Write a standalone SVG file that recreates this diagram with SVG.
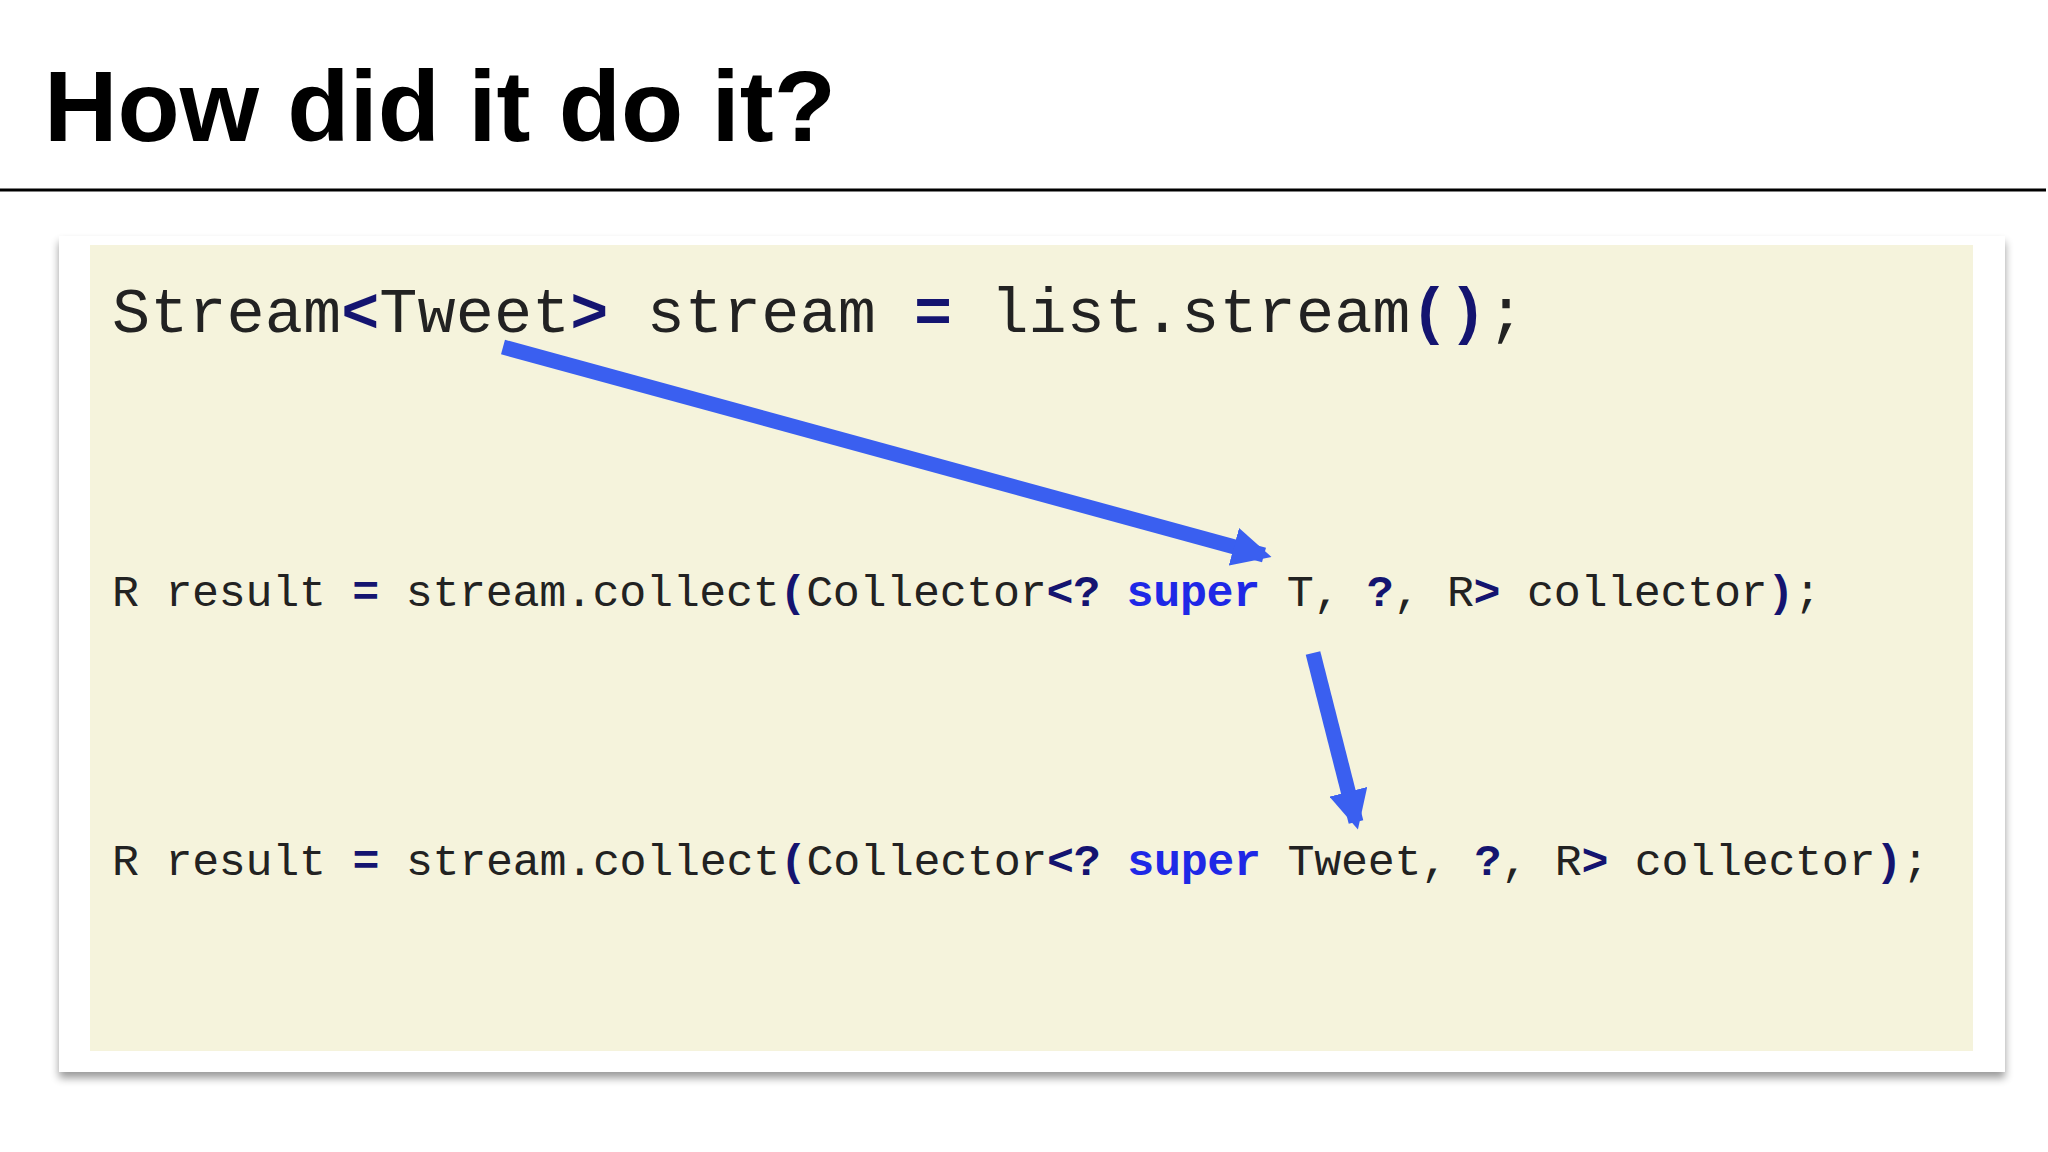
<svg xmlns="http://www.w3.org/2000/svg" width="2048" height="1152" viewBox="0 0 2048 1152">
<style>
.code{font-family:"Liberation Mono","DejaVu Sans Mono",monospace;fill:#222;}
.p{fill:#141470;font-weight:bold;}
.k{fill:#1e28e6;font-weight:bold;}
.arr{stroke:#3a5ff0;stroke-width:15;fill:none;}
</style>
<defs>
<marker id="ah" viewBox="0 0 10 10" refX="8" refY="5" markerWidth="2.6" markerHeight="2.6" orient="auto" markerUnits="strokeWidth"><path d="M0,0 L10,5 L0,10 z" fill="#3a5ff0"/></marker>
<filter id="sh" x="-5%" y="-5%" width="110%" height="115%"><feGaussianBlur in="SourceAlpha" stdDeviation="4"/><feOffset dy="6"/><feComponentTransfer><feFuncA type="linear" slope="0.4"/></feComponentTransfer><feMerge><feMergeNode/><feMergeNode in="SourceGraphic"/></feMerge></filter>
</defs>
<rect width="2048" height="1152" fill="#fff"/>
<text x="44" y="141" font-family="Liberation Sans,Arial,sans-serif" font-weight="bold" font-size="100" fill="#000" textLength="792" lengthAdjust="spacingAndGlyphs">How did it do it?</text>
<line x1="0" y1="190" x2="2046" y2="190" stroke="#000" stroke-width="3"/>
<g id="panel">
<rect x="59" y="236" width="1946" height="836" fill="#fff" filter="url(#sh)"/>
<rect x="90" y="245" width="1883" height="806" fill="#f5f3dc"/>
</g>
<g id="line1"><text class="code" x="112" y="332" font-size="63.5" textLength="1413" lengthAdjust="spacing">Stream<tspan class="p">&lt;</tspan>Tweet<tspan class="p">&gt;</tspan> stream <tspan class="p">=</tspan> list.stream<tspan class="p">()</tspan>;</text></g>
<g id="line2"><text class="code" x="112" y="606" font-size="45" textLength="1709" lengthAdjust="spacing">R result <tspan class="p">=</tspan> stream.collect<tspan class="p">(</tspan>Collector<tspan class="p">&lt;?</tspan> <tspan class="k">super</tspan> T, <tspan class="p">?</tspan>, R<tspan class="p">&gt;</tspan> collector<tspan class="p">)</tspan>;</text></g>
<g id="line3"><text class="code" x="112" y="875" font-size="45" textLength="1817" lengthAdjust="spacing">R result <tspan class="p">=</tspan> stream.collect<tspan class="p">(</tspan>Collector<tspan class="p">&lt;?</tspan> <tspan class="k">super</tspan> Tweet, <tspan class="p">?</tspan>, R<tspan class="p">&gt;</tspan> collector<tspan class="p">)</tspan>;</text></g>
<g id="connectors">
<line class="arr" x1="503" y1="347" x2="1264" y2="555" marker-end="url(#ah)"/>
<line class="arr" x1="1313" y1="653" x2="1356" y2="822" marker-end="url(#ah)"/>
</g>
</svg>
